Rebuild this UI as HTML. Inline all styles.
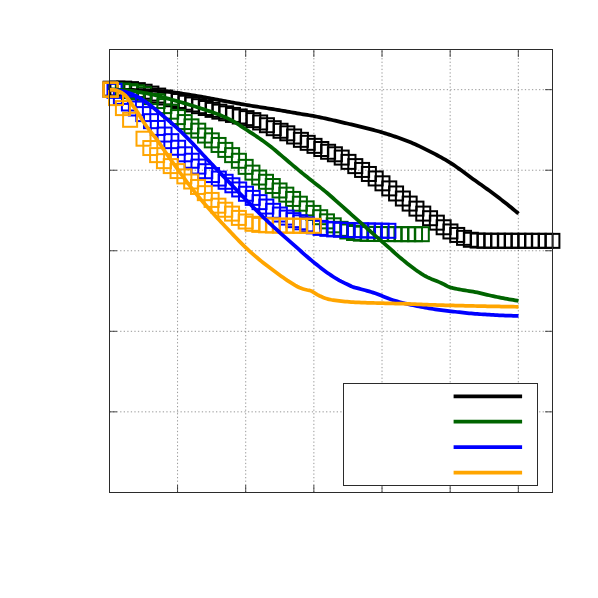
<!DOCTYPE html>
<html><head><meta charset="utf-8"><title>chart</title>
<style>
html,body{margin:0;padding:0;background:#fff;font-family:"Liberation Sans",sans-serif;}
svg{display:block}
</style></head><body>
<svg width="598" height="598" viewBox="0 0 598 598">
<rect x="0" y="0" width="598" height="598" fill="#ffffff"/>
<g stroke="#000" stroke-opacity="0.75" stroke-width="0.55" stroke-dasharray="1.3 2.25" fill="none">
<line x1="177.55" y1="492.50" x2="177.55" y2="49.50"/>
<line x1="245.71" y1="492.50" x2="245.71" y2="49.50"/>
<line x1="313.86" y1="492.50" x2="313.86" y2="49.50"/>
<line x1="382.02" y1="492.50" x2="382.02" y2="49.50"/>
<line x1="450.17" y1="492.50" x2="450.17" y2="49.50"/>
<line x1="518.32" y1="492.50" x2="518.32" y2="49.50"/>
<line x1="109.50" y1="411.85" x2="552.50" y2="411.85"/>
<line x1="109.50" y1="331.31" x2="552.50" y2="331.31"/>
<line x1="109.50" y1="250.76" x2="552.50" y2="250.76"/>
<line x1="109.50" y1="170.22" x2="552.50" y2="170.22"/>
<line x1="109.50" y1="89.67" x2="552.50" y2="89.67"/>
</g>
<g stroke="#000" stroke-width="0.7" fill="none">
<line x1="177.55" y1="492.50" x2="177.55" y2="485.00"/>
<line x1="177.55" y1="49.50" x2="177.55" y2="57.00"/>
<line x1="245.71" y1="492.50" x2="245.71" y2="485.00"/>
<line x1="245.71" y1="49.50" x2="245.71" y2="57.00"/>
<line x1="313.86" y1="492.50" x2="313.86" y2="485.00"/>
<line x1="313.86" y1="49.50" x2="313.86" y2="57.00"/>
<line x1="382.02" y1="492.50" x2="382.02" y2="485.00"/>
<line x1="382.02" y1="49.50" x2="382.02" y2="57.00"/>
<line x1="450.17" y1="492.50" x2="450.17" y2="485.00"/>
<line x1="450.17" y1="49.50" x2="450.17" y2="57.00"/>
<line x1="518.32" y1="492.50" x2="518.32" y2="485.00"/>
<line x1="518.32" y1="49.50" x2="518.32" y2="57.00"/>
<line x1="109.50" y1="411.85" x2="117.00" y2="411.85"/>
<line x1="552.50" y1="411.85" x2="545.00" y2="411.85"/>
<line x1="109.50" y1="331.31" x2="117.00" y2="331.31"/>
<line x1="552.50" y1="331.31" x2="545.00" y2="331.31"/>
<line x1="109.50" y1="250.76" x2="117.00" y2="250.76"/>
<line x1="552.50" y1="250.76" x2="545.00" y2="250.76"/>
<line x1="109.50" y1="170.22" x2="117.00" y2="170.22"/>
<line x1="552.50" y1="170.22" x2="545.00" y2="170.22"/>
<line x1="109.50" y1="89.67" x2="117.00" y2="89.67"/>
<line x1="552.50" y1="89.67" x2="545.00" y2="89.67"/>
</g>
<g fill="none" stroke="#000000" stroke-width="2.0">
<rect x="103.60" y="81.70" width="14.0" height="14.0"/>
<rect x="110.40" y="81.60" width="14.0" height="14.0"/>
<rect x="117.19" y="81.60" width="14.0" height="14.0"/>
<rect x="123.99" y="82.12" width="14.0" height="14.0"/>
<rect x="130.79" y="83.14" width="14.0" height="14.0"/>
<rect x="137.58" y="84.71" width="14.0" height="14.0"/>
<rect x="144.38" y="86.57" width="14.0" height="14.0"/>
<rect x="151.18" y="88.58" width="14.0" height="14.0"/>
<rect x="157.98" y="90.52" width="14.0" height="14.0"/>
<rect x="164.77" y="92.25" width="14.0" height="14.0"/>
<rect x="171.57" y="93.96" width="14.0" height="14.0"/>
<rect x="178.37" y="95.72" width="14.0" height="14.0"/>
<rect x="185.16" y="97.45" width="14.0" height="14.0"/>
<rect x="191.96" y="99.18" width="14.0" height="14.0"/>
<rect x="198.76" y="101.01" width="14.0" height="14.0"/>
<rect x="205.55" y="102.87" width="14.0" height="14.0"/>
<rect x="212.35" y="104.65" width="14.0" height="14.0"/>
<rect x="219.15" y="106.33" width="14.0" height="14.0"/>
<rect x="225.94" y="107.93" width="14.0" height="14.0"/>
<rect x="232.74" y="109.49" width="14.0" height="14.0"/>
<rect x="239.54" y="111.13" width="14.0" height="14.0"/>
<rect x="246.34" y="113.12" width="14.0" height="14.0"/>
<rect x="253.13" y="115.47" width="14.0" height="14.0"/>
<rect x="259.93" y="118.23" width="14.0" height="14.0"/>
<rect x="266.73" y="121.20" width="14.0" height="14.0"/>
<rect x="273.52" y="123.77" width="14.0" height="14.0"/>
<rect x="280.32" y="126.30" width="14.0" height="14.0"/>
<rect x="287.12" y="129.49" width="14.0" height="14.0"/>
<rect x="293.91" y="132.84" width="14.0" height="14.0"/>
<rect x="300.71" y="135.83" width="14.0" height="14.0"/>
<rect x="307.51" y="138.85" width="14.0" height="14.0"/>
<rect x="314.30" y="142.01" width="14.0" height="14.0"/>
<rect x="321.10" y="144.76" width="14.0" height="14.0"/>
<rect x="327.90" y="147.28" width="14.0" height="14.0"/>
<rect x="334.70" y="150.58" width="14.0" height="14.0"/>
<rect x="341.49" y="154.87" width="14.0" height="14.0"/>
<rect x="348.29" y="159.12" width="14.0" height="14.0"/>
<rect x="355.09" y="162.94" width="14.0" height="14.0"/>
<rect x="361.88" y="166.97" width="14.0" height="14.0"/>
<rect x="368.68" y="171.46" width="14.0" height="14.0"/>
<rect x="375.48" y="176.33" width="14.0" height="14.0"/>
<rect x="382.27" y="181.41" width="14.0" height="14.0"/>
<rect x="389.07" y="186.48" width="14.0" height="14.0"/>
<rect x="395.87" y="191.53" width="14.0" height="14.0"/>
<rect x="402.66" y="196.58" width="14.0" height="14.0"/>
<rect x="409.46" y="201.62" width="14.0" height="14.0"/>
<rect x="416.26" y="206.59" width="14.0" height="14.0"/>
<rect x="423.06" y="211.21" width="14.0" height="14.0"/>
<rect x="429.85" y="215.65" width="14.0" height="14.0"/>
<rect x="436.65" y="220.27" width="14.0" height="14.0"/>
<rect x="443.45" y="224.46" width="14.0" height="14.0"/>
<rect x="450.24" y="227.94" width="14.0" height="14.0"/>
<rect x="457.04" y="230.84" width="14.0" height="14.0"/>
<rect x="463.84" y="232.77" width="14.0" height="14.0"/>
<rect x="470.63" y="233.56" width="14.0" height="14.0"/>
<rect x="477.43" y="233.72" width="14.0" height="14.0"/>
<rect x="484.23" y="233.74" width="14.0" height="14.0"/>
<rect x="491.02" y="233.75" width="14.0" height="14.0"/>
<rect x="497.82" y="233.76" width="14.0" height="14.0"/>
<rect x="504.62" y="233.77" width="14.0" height="14.0"/>
<rect x="511.42" y="233.79" width="14.0" height="14.0"/>
<rect x="518.21" y="233.80" width="14.0" height="14.0"/>
<rect x="525.01" y="233.81" width="14.0" height="14.0"/>
<rect x="531.81" y="233.83" width="14.0" height="14.0"/>
<rect x="538.60" y="233.84" width="14.0" height="14.0"/>
<rect x="545.40" y="233.85" width="14.0" height="14.0"/>
</g>
<g fill="none" stroke="#006400" stroke-width="2.0">
<rect x="103.60" y="82.80" width="14.0" height="14.0"/>
<rect x="108.60" y="83.31" width="14.0" height="14.0"/>
<rect x="115.80" y="83.48" width="14.0" height="14.0"/>
<rect x="123.50" y="84.16" width="14.0" height="14.0"/>
<rect x="130.27" y="85.34" width="14.0" height="14.0"/>
<rect x="137.05" y="87.26" width="14.0" height="14.0"/>
<rect x="143.82" y="90.09" width="14.0" height="14.0"/>
<rect x="150.60" y="94.06" width="14.0" height="14.0"/>
<rect x="157.37" y="99.11" width="14.0" height="14.0"/>
<rect x="164.15" y="104.65" width="14.0" height="14.0"/>
<rect x="170.92" y="110.09" width="14.0" height="14.0"/>
<rect x="177.70" y="115.06" width="14.0" height="14.0"/>
<rect x="184.47" y="119.36" width="14.0" height="14.0"/>
<rect x="191.24" y="123.67" width="14.0" height="14.0"/>
<rect x="198.02" y="128.55" width="14.0" height="14.0"/>
<rect x="204.79" y="133.36" width="14.0" height="14.0"/>
<rect x="211.57" y="137.96" width="14.0" height="14.0"/>
<rect x="218.34" y="142.89" width="14.0" height="14.0"/>
<rect x="225.12" y="148.14" width="14.0" height="14.0"/>
<rect x="231.89" y="153.77" width="14.0" height="14.0"/>
<rect x="238.67" y="159.86" width="14.0" height="14.0"/>
<rect x="245.44" y="165.63" width="14.0" height="14.0"/>
<rect x="252.21" y="170.54" width="14.0" height="14.0"/>
<rect x="258.99" y="174.79" width="14.0" height="14.0"/>
<rect x="265.76" y="179.03" width="14.0" height="14.0"/>
<rect x="272.54" y="183.47" width="14.0" height="14.0"/>
<rect x="279.31" y="187.65" width="14.0" height="14.0"/>
<rect x="286.09" y="191.94" width="14.0" height="14.0"/>
<rect x="292.86" y="196.70" width="14.0" height="14.0"/>
<rect x="299.63" y="201.41" width="14.0" height="14.0"/>
<rect x="306.41" y="205.90" width="14.0" height="14.0"/>
<rect x="313.18" y="210.21" width="14.0" height="14.0"/>
<rect x="319.96" y="214.35" width="14.0" height="14.0"/>
<rect x="326.73" y="218.31" width="14.0" height="14.0"/>
<rect x="333.51" y="221.85" width="14.0" height="14.0"/>
<rect x="340.28" y="224.47" width="14.0" height="14.0"/>
<rect x="347.06" y="226.00" width="14.0" height="14.0"/>
<rect x="353.83" y="226.67" width="14.0" height="14.0"/>
<rect x="360.60" y="226.89" width="14.0" height="14.0"/>
<rect x="367.38" y="226.97" width="14.0" height="14.0"/>
<rect x="374.15" y="227.04" width="14.0" height="14.0"/>
<rect x="380.93" y="227.09" width="14.0" height="14.0"/>
<rect x="387.70" y="227.14" width="14.0" height="14.0"/>
<rect x="394.48" y="227.16" width="14.0" height="14.0"/>
<rect x="401.25" y="227.18" width="14.0" height="14.0"/>
<rect x="408.03" y="227.19" width="14.0" height="14.0"/>
<rect x="414.80" y="227.20" width="14.0" height="14.0"/>
</g>
<g fill="none" stroke="#0000ff" stroke-width="2.0">
<rect x="103.60" y="82.60" width="14.0" height="14.0"/>
<rect x="107.50" y="83.80" width="14.0" height="14.0"/>
<rect x="113.90" y="89.90" width="14.0" height="14.0"/>
<rect x="121.90" y="96.50" width="14.0" height="14.0"/>
<rect x="128.90" y="101.50" width="14.0" height="14.0"/>
<rect x="136.30" y="107.09" width="14.0" height="14.0"/>
<rect x="144.00" y="114.17" width="14.0" height="14.0"/>
<rect x="150.78" y="120.95" width="14.0" height="14.0"/>
<rect x="157.57" y="127.56" width="14.0" height="14.0"/>
<rect x="164.35" y="134.16" width="14.0" height="14.0"/>
<rect x="171.13" y="140.75" width="14.0" height="14.0"/>
<rect x="177.91" y="147.30" width="14.0" height="14.0"/>
<rect x="184.70" y="153.74" width="14.0" height="14.0"/>
<rect x="191.48" y="159.59" width="14.0" height="14.0"/>
<rect x="198.26" y="164.21" width="14.0" height="14.0"/>
<rect x="205.05" y="168.06" width="14.0" height="14.0"/>
<rect x="211.83" y="171.58" width="14.0" height="14.0"/>
<rect x="218.61" y="174.77" width="14.0" height="14.0"/>
<rect x="225.39" y="178.29" width="14.0" height="14.0"/>
<rect x="232.18" y="182.46" width="14.0" height="14.0"/>
<rect x="238.96" y="186.76" width="14.0" height="14.0"/>
<rect x="245.74" y="190.88" width="14.0" height="14.0"/>
<rect x="252.53" y="195.15" width="14.0" height="14.0"/>
<rect x="259.31" y="199.56" width="14.0" height="14.0"/>
<rect x="266.09" y="203.82" width="14.0" height="14.0"/>
<rect x="272.87" y="207.55" width="14.0" height="14.0"/>
<rect x="279.66" y="210.60" width="14.0" height="14.0"/>
<rect x="286.44" y="213.14" width="14.0" height="14.0"/>
<rect x="293.22" y="215.29" width="14.0" height="14.0"/>
<rect x="300.01" y="217.34" width="14.0" height="14.0"/>
<rect x="306.79" y="219.35" width="14.0" height="14.0"/>
<rect x="313.57" y="220.90" width="14.0" height="14.0"/>
<rect x="320.35" y="221.85" width="14.0" height="14.0"/>
<rect x="327.14" y="222.40" width="14.0" height="14.0"/>
<rect x="333.92" y="222.74" width="14.0" height="14.0"/>
<rect x="340.70" y="222.98" width="14.0" height="14.0"/>
<rect x="347.49" y="223.17" width="14.0" height="14.0"/>
<rect x="354.27" y="223.33" width="14.0" height="14.0"/>
<rect x="361.05" y="223.47" width="14.0" height="14.0"/>
<rect x="367.83" y="223.60" width="14.0" height="14.0"/>
<rect x="374.62" y="223.71" width="14.0" height="14.0"/>
<rect x="381.40" y="223.80" width="14.0" height="14.0"/>
</g>
<g fill="none" stroke="#ffa500" stroke-width="2.0">
<rect x="103.20" y="82.30" width="14.0" height="14.0"/>
<rect x="103.90" y="82.95" width="14.0" height="14.0"/>
<rect x="109.00" y="91.10" width="14.0" height="14.0"/>
<rect x="115.90" y="101.10" width="14.0" height="14.0"/>
<rect x="123.10" y="112.80" width="14.0" height="14.0"/>
<rect x="136.50" y="131.70" width="14.0" height="14.0"/>
<rect x="143.31" y="141.04" width="14.0" height="14.0"/>
<rect x="150.12" y="148.13" width="14.0" height="14.0"/>
<rect x="156.94" y="154.16" width="14.0" height="14.0"/>
<rect x="163.75" y="159.09" width="14.0" height="14.0"/>
<rect x="170.56" y="164.08" width="14.0" height="14.0"/>
<rect x="177.37" y="169.40" width="14.0" height="14.0"/>
<rect x="184.18" y="174.51" width="14.0" height="14.0"/>
<rect x="191.00" y="179.95" width="14.0" height="14.0"/>
<rect x="197.81" y="186.17" width="14.0" height="14.0"/>
<rect x="204.62" y="192.92" width="14.0" height="14.0"/>
<rect x="211.43" y="198.68" width="14.0" height="14.0"/>
<rect x="218.24" y="202.74" width="14.0" height="14.0"/>
<rect x="225.06" y="206.61" width="14.0" height="14.0"/>
<rect x="231.87" y="210.90" width="14.0" height="14.0"/>
<rect x="238.68" y="214.53" width="14.0" height="14.0"/>
<rect x="245.49" y="216.80" width="14.0" height="14.0"/>
<rect x="252.30" y="217.89" width="14.0" height="14.0"/>
<rect x="259.12" y="218.31" width="14.0" height="14.0"/>
<rect x="265.93" y="218.49" width="14.0" height="14.0"/>
<rect x="272.74" y="218.59" width="14.0" height="14.0"/>
<rect x="279.55" y="218.66" width="14.0" height="14.0"/>
<rect x="286.36" y="218.72" width="14.0" height="14.0"/>
<rect x="293.18" y="218.76" width="14.0" height="14.0"/>
<rect x="299.99" y="218.79" width="14.0" height="14.0"/>
<rect x="306.80" y="218.80" width="14.0" height="14.0"/>
</g>
<path d="M109.20,89.70 L111.20,89.70 L113.20,89.71 L115.20,89.72 L117.20,89.74 L119.20,89.76 L121.20,89.78 L123.20,89.80 L125.20,89.83 L127.20,89.86 L129.20,89.89 L131.20,89.92 L133.20,89.96 L135.20,90.00 L137.20,90.05 L139.20,90.11 L141.20,90.17 L143.20,90.23 L145.20,90.31 L147.20,90.38 L149.20,90.47 L151.20,90.55 L153.20,90.66 L155.20,90.78 L157.20,90.91 L159.20,91.05 L161.20,91.21 L163.20,91.37 L165.20,91.55 L167.20,91.73 L169.20,91.92 L171.20,92.12 L173.20,92.35 L175.20,92.59 L177.20,92.86 L179.20,93.14 L181.20,93.43 L183.20,93.74 L185.20,94.05 L187.20,94.36 L189.20,94.67 L191.20,94.99 L193.20,95.32 L195.20,95.65 L197.20,96.00 L199.20,96.35 L201.20,96.71 L203.20,97.08 L205.20,97.45 L207.20,97.82 L209.20,98.19 L211.20,98.57 L213.20,98.95 L215.20,99.32 L217.20,99.69 L219.20,100.06 L221.20,100.42 L223.20,100.78 L225.20,101.15 L227.20,101.52 L229.20,101.89 L231.20,102.26 L233.20,102.63 L235.20,102.99 L237.20,103.36 L239.20,103.72 L241.20,104.07 L243.20,104.42 L245.20,104.77 L247.20,105.10 L249.20,105.43 L251.20,105.76 L253.20,106.08 L255.20,106.40 L257.20,106.71 L259.20,107.02 L261.20,107.33 L263.20,107.64 L265.20,107.95 L267.20,108.26 L269.20,108.57 L271.20,108.88 L273.20,109.19 L275.20,109.51 L277.20,109.84 L279.20,110.17 L281.20,110.50 L283.20,110.85 L285.20,111.19 L287.20,111.55 L289.20,111.90 L291.20,112.26 L293.20,112.62 L295.20,112.97 L297.20,113.32 L299.20,113.66 L301.20,114.00 L303.20,114.32 L305.20,114.64 L307.20,114.95 L309.20,115.27 L311.20,115.61 L313.20,115.96 L315.20,116.34 L317.20,116.73 L319.20,117.13 L321.20,117.55 L323.20,117.97 L325.20,118.41 L327.20,118.85 L329.20,119.30 L331.20,119.76 L333.20,120.22 L335.20,120.69 L337.20,121.16 L339.20,121.63 L341.20,122.10 L343.20,122.58 L345.20,123.05 L347.20,123.52 L349.20,123.99 L351.20,124.45 L353.20,124.93 L355.20,125.40 L357.20,125.87 L359.20,126.35 L361.20,126.84 L363.20,127.33 L365.20,127.82 L367.20,128.33 L369.20,128.84 L371.20,129.36 L373.20,129.90 L375.20,130.44 L377.20,131.00 L379.20,131.57 L381.20,132.15 L383.20,132.75 L385.20,133.36 L387.20,133.98 L389.20,134.62 L391.20,135.27 L393.20,135.93 L395.20,136.61 L397.20,137.30 L399.20,138.01 L401.20,138.73 L403.20,139.47 L405.20,140.22 L407.20,140.99 L409.20,141.78 L411.20,142.59 L413.20,143.43 L415.20,144.31 L417.20,145.21 L419.20,146.15 L421.20,147.11 L423.20,148.08 L425.20,149.07 L427.20,150.08 L429.20,151.09 L431.20,152.11 L433.20,153.15 L435.20,154.19 L437.20,155.26 L439.20,156.34 L441.20,157.44 L443.20,158.57 L445.20,159.72 L447.20,160.91 L449.20,162.12 L451.20,163.37 L453.20,164.67 L455.20,166.02 L457.20,167.42 L459.20,168.85 L461.20,170.30 L463.20,171.78 L465.20,173.26 L467.20,174.75 L469.20,176.24 L471.20,177.71 L473.20,179.16 L475.20,180.59 L477.20,182.01 L479.20,183.43 L481.20,184.84 L483.20,186.26 L485.20,187.68 L487.20,189.12 L489.20,190.56 L491.20,192.02 L493.20,193.50 L495.20,195.00 L497.20,196.52 L499.20,198.06 L501.20,199.61 L503.20,201.17 L505.20,202.75 L507.20,204.34 L509.20,205.95 L511.20,207.57 L513.20,209.20 L515.20,210.85 L517.20,212.51 L518.50,213.60" fill="none" stroke="#000000" stroke-width="3.75" stroke-linejoin="round" stroke-linecap="butt"/>
<path d="M109.20,89.70 L111.20,89.71 L113.20,89.73 L115.20,89.77 L117.20,89.82 L119.20,89.88 L121.20,89.94 L123.20,90.05 L125.20,90.20 L127.20,90.39 L129.20,90.61 L131.20,90.87 L133.20,91.14 L135.20,91.44 L137.20,91.76 L139.20,92.09 L141.20,92.43 L143.20,92.78 L145.20,93.12 L147.20,93.47 L149.20,93.84 L151.20,94.25 L153.20,94.69 L155.20,95.15 L157.20,95.65 L159.20,96.16 L161.20,96.69 L163.20,97.23 L165.20,97.79 L167.20,98.34 L169.20,98.90 L171.20,99.46 L173.20,100.02 L175.20,100.57 L177.20,101.13 L179.20,101.70 L181.20,102.28 L183.20,102.87 L185.20,103.46 L187.20,104.07 L189.20,104.68 L191.20,105.30 L193.20,105.92 L195.20,106.56 L197.20,107.19 L199.20,107.84 L201.20,108.49 L203.20,109.14 L205.20,109.80 L207.20,110.47 L209.20,111.15 L211.20,111.84 L213.20,112.55 L215.20,113.27 L217.20,114.02 L219.20,114.79 L221.20,115.58 L223.20,116.39 L225.20,117.24 L227.20,118.14 L229.20,119.10 L231.20,120.13 L233.20,121.25 L235.20,122.45 L237.20,123.71 L239.20,125.00 L241.20,126.33 L243.20,127.65 L245.20,128.97 L247.20,130.27 L249.20,131.57 L251.20,132.88 L253.20,134.19 L255.20,135.52 L257.20,136.86 L259.20,138.21 L261.20,139.59 L263.20,141.00 L265.20,142.43 L267.20,143.89 L269.20,145.39 L271.20,146.94 L273.20,148.58 L275.20,150.28 L277.20,152.00 L279.20,153.72 L281.20,155.41 L283.20,157.10 L285.20,158.80 L287.20,160.50 L289.20,162.20 L291.20,163.89 L293.20,165.58 L295.20,167.26 L297.20,168.93 L299.20,170.58 L301.20,172.22 L303.20,173.85 L305.20,175.46 L307.20,177.07 L309.20,178.67 L311.20,180.26 L313.20,181.86 L315.20,183.45 L317.20,185.01 L319.20,186.57 L321.20,188.13 L323.20,189.73 L325.20,191.37 L327.20,193.05 L329.20,194.76 L331.20,196.50 L333.20,198.26 L335.20,200.04 L337.20,201.83 L339.20,203.63 L341.20,205.42 L343.20,207.20 L345.20,208.98 L347.20,210.75 L349.20,212.52 L351.20,214.29 L353.20,216.07 L355.20,217.84 L357.20,219.62 L359.20,221.39 L361.20,223.16 L363.20,224.94 L365.20,226.72 L367.20,228.50 L369.20,230.27 L371.20,232.05 L373.20,233.81 L375.20,235.58 L377.20,237.32 L379.20,239.06 L381.20,240.81 L383.20,242.57 L385.20,244.34 L387.20,246.12 L389.20,247.91 L391.20,249.70 L393.20,251.51 L395.20,253.32 L397.20,255.09 L399.20,256.81 L401.20,258.51 L403.20,260.18 L405.20,261.82 L407.20,263.42 L409.20,264.99 L411.20,266.52 L413.20,268.03 L415.20,269.52 L417.20,270.94 L419.20,272.32 L421.20,273.65 L423.20,274.88 L425.20,276.01 L427.20,277.07 L429.20,278.04 L431.20,278.90 L433.20,279.67 L435.20,280.44 L437.20,281.27 L439.20,282.12 L441.20,282.99 L443.20,283.93 L445.20,285.01 L447.20,286.08 L449.20,287.01 L451.20,287.66 L453.20,288.18 L455.20,288.62 L457.20,289.02 L459.20,289.39 L461.20,289.76 L463.20,290.11 L465.20,290.43 L467.20,290.74 L469.20,291.05 L471.20,291.36 L473.20,291.69 L475.20,292.06 L477.20,292.46 L479.20,292.90 L481.20,293.36 L483.20,293.84 L485.20,294.32 L487.20,294.81 L489.20,295.29 L491.20,295.75 L493.20,296.19 L495.20,296.61 L497.20,297.02 L499.20,297.42 L501.20,297.81 L503.20,298.19 L505.20,298.56 L507.20,298.92 L509.20,299.28 L511.20,299.62 L513.20,299.96 L515.20,300.28 L517.20,300.60 L518.50,300.80" fill="none" stroke="#006400" stroke-width="3.75" stroke-linejoin="round" stroke-linecap="butt"/>
<path d="M109.20,89.70 L111.20,89.75 L113.20,89.88 L115.20,90.08 L117.20,90.32 L119.20,90.59 L121.20,90.89 L123.20,91.30 L125.20,91.82 L127.20,92.42 L129.20,93.10 L131.20,93.84 L133.20,94.62 L135.20,95.49 L137.20,96.51 L139.20,97.67 L141.20,98.92 L143.20,100.24 L145.20,101.60 L147.20,102.98 L149.20,104.43 L151.20,105.98 L153.20,107.61 L155.20,109.28 L157.20,110.97 L159.20,112.65 L161.20,114.31 L163.20,115.97 L165.20,117.64 L167.20,119.32 L169.20,121.03 L171.20,122.76 L173.20,124.53 L175.20,126.33 L177.20,128.17 L179.20,130.03 L181.20,131.92 L183.20,133.84 L185.20,135.81 L187.20,137.80 L189.20,139.86 L191.20,141.97 L193.20,144.12 L195.20,146.30 L197.20,148.48 L199.20,150.64 L201.20,152.78 L203.20,154.93 L205.20,157.08 L207.20,159.22 L209.20,161.37 L211.20,163.51 L213.20,165.65 L215.20,167.77 L217.20,169.88 L219.20,171.98 L221.20,174.07 L223.20,176.14 L225.20,178.21 L227.20,180.27 L229.20,182.33 L231.20,184.39 L233.20,186.45 L235.20,188.51 L237.20,190.59 L239.20,192.68 L241.20,194.78 L243.20,196.87 L245.20,198.96 L247.20,201.04 L249.20,203.11 L251.20,205.16 L253.20,207.20 L255.20,209.20 L257.20,211.18 L259.20,213.16 L261.20,215.11 L263.20,217.06 L265.20,218.99 L267.20,220.90 L269.20,222.80 L271.20,224.68 L273.20,226.55 L275.20,228.40 L277.20,230.23 L279.20,232.02 L281.20,233.80 L283.20,235.56 L285.20,237.32 L287.20,239.07 L289.20,240.82 L291.20,242.58 L293.20,244.36 L295.20,246.14 L297.20,247.93 L299.20,249.72 L301.20,251.51 L303.20,253.28 L305.20,255.04 L307.20,256.78 L309.20,258.50 L311.20,260.18 L313.20,261.83 L315.20,263.45 L317.20,265.05 L319.20,266.63 L321.20,268.19 L323.20,269.71 L325.20,271.20 L327.20,272.65 L329.20,274.05 L331.20,275.41 L333.20,276.72 L335.20,277.99 L337.20,279.21 L339.20,280.36 L341.20,281.44 L343.20,282.44 L345.20,283.39 L347.20,284.32 L349.20,285.26 L351.20,286.26 L353.20,287.13 L355.20,287.67 L357.20,288.15 L359.20,288.67 L361.20,289.20 L363.20,289.74 L365.20,290.30 L367.20,290.86 L369.20,291.42 L371.20,292.00 L373.20,292.61 L375.20,293.25 L377.20,293.94 L379.20,294.74 L381.20,295.59 L383.20,296.40 L385.20,297.23 L387.20,298.05 L389.20,298.84 L391.20,299.57 L393.20,300.22 L395.20,300.83 L397.20,301.41 L399.20,301.96 L401.20,302.48 L403.20,302.99 L405.20,303.48 L407.20,303.94 L409.20,304.39 L411.20,304.82 L413.20,305.23 L415.20,305.64 L417.20,306.04 L419.20,306.45 L421.20,306.86 L423.20,307.26 L425.20,307.65 L427.20,308.02 L429.20,308.37 L431.20,308.69 L433.20,308.99 L435.20,309.29 L437.20,309.57 L439.20,309.84 L441.20,310.10 L443.20,310.36 L445.20,310.60 L447.20,310.84 L449.20,311.07 L451.20,311.30 L453.20,311.53 L455.20,311.76 L457.20,311.99 L459.20,312.21 L461.20,312.43 L463.20,312.65 L465.20,312.86 L467.20,313.07 L469.20,313.27 L471.20,313.46 L473.20,313.64 L475.20,313.81 L477.20,313.97 L479.20,314.12 L481.20,314.25 L483.20,314.37 L485.20,314.49 L487.20,314.61 L489.20,314.73 L491.20,314.84 L493.20,314.95 L495.20,315.06 L497.20,315.16 L499.20,315.26 L501.20,315.35 L503.20,315.44 L505.20,315.53 L507.20,315.60 L509.20,315.67 L511.20,315.74 L513.20,315.79 L515.20,315.84 L517.20,315.88 L518.50,315.90" fill="none" stroke="#0000ff" stroke-width="3.75" stroke-linejoin="round" stroke-linecap="butt"/>
<path d="M109.20,89.70 L111.20,89.76 L113.20,89.91 L115.20,90.13 L117.20,90.63 L119.20,91.44 L121.20,92.41 L123.20,93.73 L125.20,95.38 L127.20,97.62 L129.20,100.37 L131.20,103.26 L133.20,106.03 L135.20,108.86 L137.20,111.78 L139.20,114.87 L141.20,118.22 L143.20,121.45 L145.20,124.41 L147.20,127.22 L149.20,129.94 L151.20,132.54 L153.20,134.99 L155.20,137.42 L157.20,140.00 L159.20,142.84 L161.20,145.83 L163.20,148.84 L165.20,151.73 L167.20,154.60 L169.20,157.45 L171.20,160.29 L173.20,163.11 L175.20,165.92 L177.20,168.71 L179.20,171.48 L181.20,174.23 L183.20,176.95 L185.20,179.65 L187.20,182.32 L189.20,184.95 L191.20,187.56 L193.20,190.13 L195.20,192.65 L197.20,195.13 L199.20,197.55 L201.20,199.91 L203.20,202.24 L205.20,204.55 L207.20,206.82 L209.20,209.07 L211.20,211.30 L213.20,213.51 L215.20,215.69 L217.20,217.87 L219.20,220.02 L221.20,222.17 L223.20,224.30 L225.20,226.42 L227.20,228.54 L229.20,230.66 L231.20,232.77 L233.20,234.88 L235.20,236.98 L237.20,239.07 L239.20,241.13 L241.20,243.16 L243.20,245.14 L245.20,247.07 L247.20,248.95 L249.20,250.79 L251.20,252.59 L253.20,254.36 L255.20,256.09 L257.20,257.79 L259.20,259.46 L261.20,261.09 L263.20,262.69 L265.20,264.26 L267.20,265.80 L269.20,267.32 L271.20,268.82 L273.20,270.30 L275.20,271.77 L277.20,273.23 L279.20,274.70 L281.20,276.16 L283.20,277.60 L285.20,279.00 L287.20,280.37 L289.20,281.67 L291.20,282.92 L293.20,284.17 L295.20,285.38 L297.20,286.50 L299.20,287.48 L301.20,288.28 L303.20,288.95 L305.20,289.52 L307.20,289.99 L309.20,290.33 L311.20,290.97 L313.20,292.18 L315.20,293.36 L317.20,294.56 L319.20,295.68 L321.20,296.58 L323.20,297.41 L325.20,298.16 L327.20,298.82 L329.20,299.36 L331.20,299.77 L333.20,300.10 L335.20,300.39 L337.20,300.64 L339.20,300.87 L341.20,301.09 L343.20,301.31 L345.20,301.52 L347.20,301.72 L349.20,301.90 L351.20,302.06 L353.20,302.19 L355.20,302.29 L357.20,302.39 L359.20,302.48 L361.20,302.56 L363.20,302.63 L365.20,302.70 L367.20,302.77 L369.20,302.83 L371.20,302.89 L373.20,302.95 L375.20,303.00 L377.20,303.06 L379.20,303.11 L381.20,303.17 L383.20,303.23 L385.20,303.28 L387.20,303.34 L389.20,303.39 L391.20,303.43 L393.20,303.48 L395.20,303.53 L397.20,303.58 L399.20,303.63 L401.20,303.68 L403.20,303.74 L405.20,303.80 L407.20,303.86 L409.20,303.94 L411.20,304.02 L413.20,304.10 L415.20,304.18 L417.20,304.27 L419.20,304.36 L421.20,304.45 L423.20,304.54 L425.20,304.62 L427.20,304.70 L429.20,304.77 L431.20,304.84 L433.20,304.91 L435.20,304.97 L437.20,305.03 L439.20,305.09 L441.20,305.15 L443.20,305.21 L445.20,305.27 L447.20,305.32 L449.20,305.37 L451.20,305.42 L453.20,305.47 L455.20,305.52 L457.20,305.57 L459.20,305.62 L461.20,305.67 L463.20,305.72 L465.20,305.76 L467.20,305.81 L469.20,305.86 L471.20,305.91 L473.20,305.95 L475.20,306.00 L477.20,306.04 L479.20,306.09 L481.20,306.13 L483.20,306.17 L485.20,306.21 L487.20,306.26 L489.20,306.30 L491.20,306.34 L493.20,306.38 L495.20,306.42 L497.20,306.45 L499.20,306.49 L501.20,306.53 L503.20,306.56 L505.20,306.60 L507.20,306.63 L509.20,306.66 L511.20,306.69 L513.20,306.72 L515.20,306.75 L517.20,306.78 L518.50,306.80" fill="none" stroke="#ffa500" stroke-width="3.75" stroke-linejoin="round" stroke-linecap="butt"/>
<rect x="109.50" y="49.50" width="443.00" height="443.00" fill="none" stroke="#2b2b2b" stroke-width="1"/>
<rect x="343.5" y="383.5" width="194.00" height="102.00" fill="#fff" stroke="#2b2b2b" stroke-width="1"/>
<line x1="453.6" y1="396.3" x2="522.1" y2="396.3" stroke="#000000" stroke-width="3.75"/>
<line x1="453.6" y1="421.6" x2="522.1" y2="421.6" stroke="#006400" stroke-width="3.75"/>
<line x1="453.6" y1="447.1" x2="522.1" y2="447.1" stroke="#0000ff" stroke-width="3.75"/>
<line x1="453.6" y1="472.5" x2="522.1" y2="472.5" stroke="#ffa500" stroke-width="3.75"/>
</svg></body></html>
